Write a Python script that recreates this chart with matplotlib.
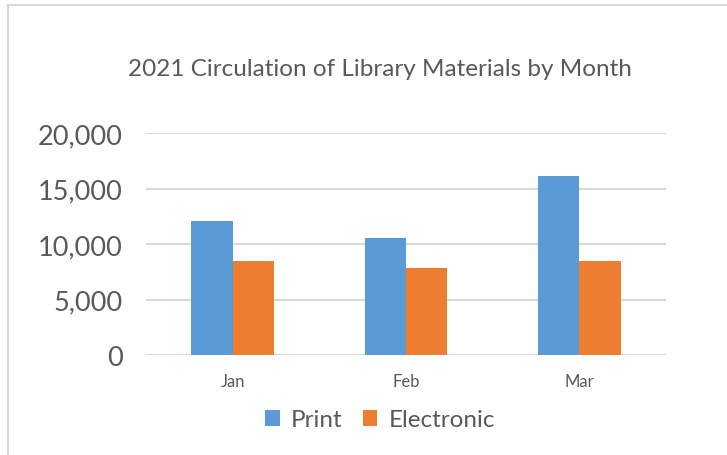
import numpy as np
import matplotlib.pyplot as plt
from matplotlib.lines import Line2D

months = ['Jan', 'Feb', 'Mar']
print_vals = [12100, 10500, 16100]
electronic_vals = [8500, 7850, 8500]
y_ticks = [0, 5000, 10000, 15000, 20000]

W, H = 727, 456
fig = plt.figure(figsize=(W / 100, H / 100), dpi=100)
plt.rcParams['font.family'] = ['Lato', 'DejaVu Sans']

# chart border (only top and left visible in the crop)
fig.add_artist(Line2D([8 / W, 8 / W], [0, 1 - 6 / H], color='#d9d9d9', lw=1.5, transform=fig.transFigure))
fig.add_artist(Line2D([8 / W, 1], [1 - 6 / H, 1 - 6 / H], color='#d9d9d9', lw=1.5, transform=fig.transFigure))

ax = fig.add_axes([146 / W, 1 - 356 / H, (666 - 146) / W, (356 - 134) / H])
x = np.arange(len(months))
bw = 0.239
ax.bar(x - bw / 2, print_vals, bw, color='#5b9bd5', label='Print', zorder=3)
ax.bar(x + bw / 2, electronic_vals, bw, color='#ed7d31', label='Electronic', zorder=3)

ax.set_xlim(-0.5, 2.5)
ax.set_ylim(0, 20000)
ax.set_yticks(y_ticks)
ax.set_yticklabels(['{:,}'.format(v) for v in y_ticks], fontsize=19.5, color='#595959')
ax.set_xticks(x)
ax.set_xticklabels(months, fontsize=12, color='#595959')
ax.tick_params(axis='both', length=0)
ax.tick_params(axis='y', pad=17)
ax.tick_params(axis='x', pad=13)
ax.grid(axis='y', color='#d9d9d9', lw=1.5, zorder=0)
for s in ax.spines.values():
    s.set_visible(False)

fig.text(380 / W, 1 - 70 / H, '2021 Circulation of Library Materials by Month',
         ha='center', va='center', fontsize=17.5, color='#595959')

fig.legend(loc='center', bbox_to_anchor=(380 / W, 1 - 421 / H), ncol=2, frameon=False,
           fontsize=17.5, labelcolor='#595959', handlelength=0.6, handleheight=0.6,
           handletextpad=0.45, columnspacing=0.85)

fig.savefig('out.png', dpi=100, facecolor='white')
